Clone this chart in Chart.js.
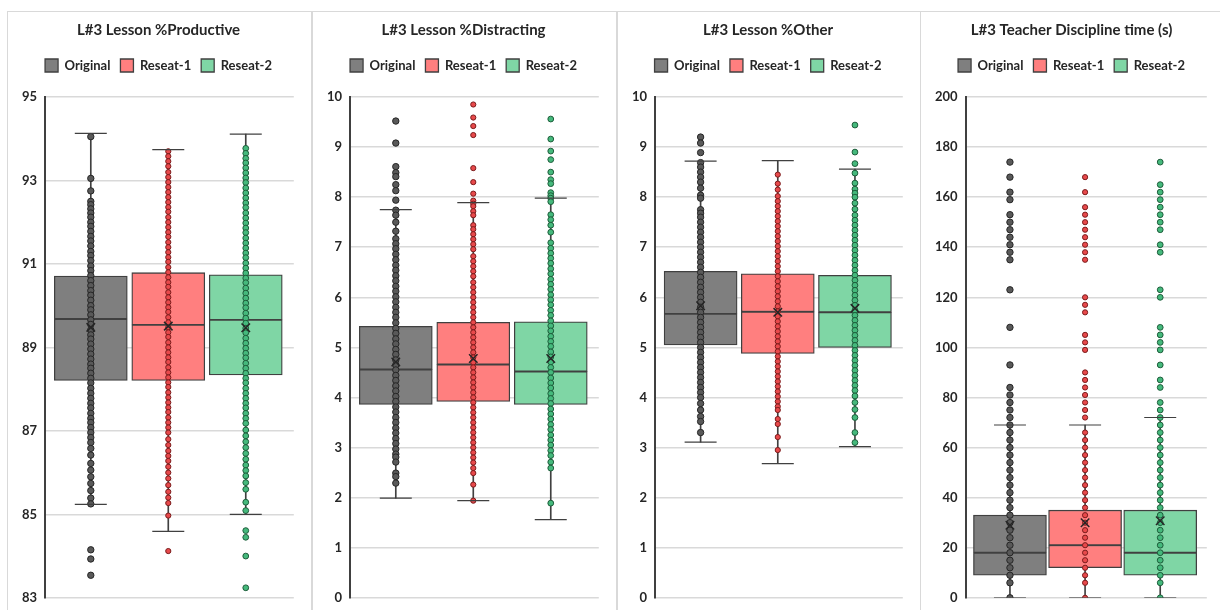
<!DOCTYPE html>
<html>
<head>
<meta charset="utf-8">
<script src="https://cdn.jsdelivr.net/npm/chart.js@4.4.0/dist/chart.umd.min.js"></script>
<style>
  body { margin: 0; background: #fff; }
  .panel { position: absolute; top: 11px; height: 605px; border: 1px solid #d9d9d9; box-sizing: border-box; }
</style>
</head>
<body>
<div class="panel" style="left:7px;width:305px"><canvas id="c1"></canvas></div>
<div class="panel" style="left:312px;width:305px"><canvas id="c2"></canvas></div>
<div class="panel" style="left:617px;width:304px"><canvas id="c3"></canvas></div>
<div class="panel" style="left:920px;width:305px"><canvas id="c4"></canvas></div>
<script>
const seriesNames = ['Original', 'Reseat-1', 'Reseat-2'];

// L#3 Lesson %Productive
const prodQ1 = [88.21, 88.21, 88.34];
const prodMedian = [89.68, 89.54, 89.66];
const prodQ3 = [90.71, 90.79, 90.74];
const prodMean = [89.48, 89.51, 89.47];
const prodLow = [85.24, 84.59, 85.0];
const prodHigh = [94.13, 93.74, 94.11];
const prodOriginal = [94.05, 93.05, 92.75, 92.5, 92.42, 92.32, 92.22, 92.12, 92.0, 91.9, 91.78, 91.66, 91.55, 91.43, 91.3, 91.2, 91.08, 90.95, 90.84, 90.72, 90.6, 90.48, 90.36, 90.25, 90.13, 90.0, 89.9, 89.78, 89.66, 89.55, 89.42, 89.3, 89.2, 89.08, 88.96, 88.84, 88.72, 88.6, 88.5, 88.38, 88.26, 88.15, 88.02, 87.9, 87.78, 87.66, 87.55, 87.42, 87.3, 87.2, 87.08, 86.96, 86.84, 86.72, 86.58, 86.42, 86.22, 86.06, 85.9, 85.74, 85.57, 85.39, 85.25, 84.15, 83.93, 83.54];
const prodReseat1 = [93.7, 93.58, 93.46, 93.34, 93.2, 93.08, 92.96, 92.84, 92.72, 92.6, 92.48, 92.36, 92.25, 92.12, 92.0, 91.88, 91.76, 91.65, 91.52, 91.4, 91.28, 91.16, 91.05, 90.92, 90.8, 90.68, 90.56, 90.45, 90.32, 90.2, 90.08, 89.96, 89.85, 89.72, 89.6, 89.48, 89.36, 89.25, 89.12, 89.0, 88.88, 88.76, 88.65, 88.52, 88.4, 88.28, 88.16, 88.05, 87.92, 87.8, 87.68, 87.56, 87.45, 87.32, 87.2, 87.08, 86.96, 86.8, 86.66, 86.52, 86.4, 86.28, 86.14, 86.0, 85.86, 85.7, 85.54, 85.4, 85.27, 84.97, 84.12];
const prodReseat2 = [93.77, 93.65, 93.53, 93.42, 93.3, 93.18, 93.06, 92.95, 92.82, 92.7, 92.58, 92.46, 92.35, 92.22, 92.1, 91.98, 91.86, 91.75, 91.62, 91.5, 91.38, 91.26, 91.15, 91.02, 90.9, 90.78, 90.66, 90.55, 90.42, 90.3, 90.18, 90.06, 89.95, 89.82, 89.7, 89.58, 89.46, 89.35, 89.22, 89.1, 88.98, 88.86, 88.75, 88.62, 88.5, 88.38, 88.26, 88.15, 88.02, 87.9, 87.78, 87.66, 87.55, 87.42, 87.3, 87.18, 87.02, 86.88, 86.74, 86.6, 86.46, 86.32, 86.18, 86.05, 85.92, 85.76, 85.6, 85.29, 85.09, 84.61, 84.45, 84.0, 83.24];

// L#3 Lesson %Distracting
const distQ1 = [3.86, 3.92, 3.86];
const distMedian = [4.56, 4.66, 4.52];
const distQ3 = [5.42, 5.5, 5.51];
const distMean = [4.71, 4.78, 4.78];
const distLow = [1.99, 1.94, 1.56];
const distHigh = [7.75, 7.89, 7.98];
const distOriginal = [9.52, 9.08, 8.61, 8.49, 8.41, 8.25, 8.13, 7.94, 7.74, 7.64, 7.5, 7.32, 7.17, 7.07, 6.97, 6.86, 6.75, 6.64, 6.54, 6.43, 6.33, 6.22, 6.12, 6.01, 5.91, 5.8, 5.7, 5.6, 5.49, 5.38, 5.28, 5.17, 5.07, 4.96, 4.86, 4.75, 4.65, 4.55, 4.44, 4.34, 4.23, 4.13, 4.02, 3.92, 3.81, 3.71, 3.6, 3.5, 3.39, 3.29, 3.18, 3.08, 2.97, 2.87, 2.81, 2.71, 2.49, 2.42, 2.29];
const distReseat1 = [9.85, 9.59, 9.42, 9.24, 8.58, 8.3, 8.07, 7.93, 7.87, 7.82, 7.72, 7.64, 7.44, 7.36, 7.26, 7.16, 7.06, 6.96, 6.82, 6.72, 6.62, 6.52, 6.42, 6.3, 6.2, 6.1, 6.0, 5.9, 5.8, 5.7, 5.6, 5.5, 5.4, 5.3, 5.2, 5.1, 5.0, 4.9, 4.8, 4.7, 4.6, 4.5, 4.4, 4.3, 4.2, 4.1, 4.0, 3.9, 3.8, 3.7, 3.6, 3.5, 3.4, 3.3, 3.2, 3.1, 3.0, 2.9, 2.8, 2.7, 2.59, 2.49, 2.26, 1.94];
const distReseat2 = [9.56, 9.16, 8.92, 8.75, 8.5, 8.35, 8.27, 8.09, 8.03, 7.98, 7.91, 7.65, 7.55, 7.44, 7.3, 7.09, 6.98, 6.88, 6.78, 6.68, 6.57, 6.47, 6.36, 6.26, 6.16, 6.05, 5.95, 5.85, 5.74, 5.64, 5.53, 5.43, 5.33, 5.22, 5.12, 5.02, 4.91, 4.81, 4.71, 4.6, 4.5, 4.39, 4.29, 4.19, 4.08, 3.98, 3.88, 3.77, 3.67, 3.57, 3.46, 3.36, 3.25, 3.15, 3.05, 2.94, 2.84, 2.71, 2.59, 1.89];

// L#3 Lesson %Other
const othQ1 = [5.05, 4.88, 5.0];
const othMedian = [5.67, 5.71, 5.7];
const othQ3 = [6.52, 6.47, 6.44];
const othMean = [5.83, 5.7, 5.78];
const othLow = [3.11, 2.68, 3.02];
const othHigh = [8.72, 8.73, 8.56];
const othOriginal = [9.2, 9.08, 8.89, 8.69, 8.6, 8.5, 8.4, 8.3, 8.18, 8.04, 7.98, 7.75, 7.68, 7.6, 7.5, 7.4, 7.3, 7.2, 7.1, 7.0, 6.9, 6.8, 6.7, 6.6, 6.5, 6.4, 6.3, 6.2, 6.1, 6.0, 5.9, 5.8, 5.7, 5.6, 5.5, 5.4, 5.3, 5.2, 5.1, 5.0, 4.9, 4.8, 4.7, 4.6, 4.5, 4.4, 4.3, 4.2, 4.1, 4.0, 3.88, 3.75, 3.62, 3.52, 3.3];
const othReseat1 = [8.45, 8.27, 8.15, 8.02, 7.92, 7.82, 7.72, 7.62, 7.52, 7.42, 7.32, 7.22, 7.12, 7.02, 6.92, 6.82, 6.72, 6.62, 6.52, 6.42, 6.32, 6.22, 6.12, 6.02, 5.92, 5.82, 5.72, 5.62, 5.52, 5.42, 5.32, 5.22, 5.12, 5.02, 4.92, 4.82, 4.72, 4.62, 4.52, 4.42, 4.32, 4.22, 4.12, 4.02, 3.92, 3.82, 3.75, 3.57, 3.47, 3.21, 2.95];
const othReseat2 = [9.44, 8.9, 8.67, 8.48, 8.28, 8.16, 8.08, 8.0, 7.88, 7.76, 7.64, 7.54, 7.44, 7.34, 7.24, 7.14, 7.04, 6.94, 6.84, 6.74, 6.64, 6.54, 6.44, 6.34, 6.24, 6.14, 6.04, 5.94, 5.84, 5.74, 5.64, 5.54, 5.44, 5.34, 5.24, 5.14, 5.04, 4.94, 4.84, 4.74, 4.64, 4.54, 4.44, 4.34, 4.24, 4.14, 4.03, 3.9, 3.76, 3.6, 3.3, 3.1];

// L#3 Teacher Discipline time (s)
const discQ1 = [9, 12, 9];
const discMedian = [18, 21, 18];
const discQ3 = [33, 35, 35];
const discMean = [29, 30, 30.8];
const discLow = [0, 0, 0];
const discHigh = [69, 69, 72];
const discOriginal = [174, 168, 162, 159, 153, 150, 147, 144, 141, 138, 135, 123, 108, 93, 84, 81, 78, 75, 72, 69, 66, 63, 60, 57, 54, 51, 48, 45, 42, 39, 36, 33, 30, 27, 24, 21, 18, 15, 12, 9, 6, 0];
const discReseat1 = [168, 162, 156, 153, 150, 147, 144, 141, 138, 135, 120, 117, 114, 105, 102, 99, 90, 87, 84, 81, 78, 75, 72, 66, 63, 60, 57, 54, 51, 48, 45, 42, 39, 36, 33, 30, 27, 24, 21, 18, 15, 12, 9, 6, 0];
const discReseat2 = [174, 165, 162, 159, 156, 153, 150, 147, 141, 138, 123, 120, 108, 105, 102, 99, 93, 87, 84, 78, 75, 72, 69, 66, 63, 60, 57, 54, 51, 48, 45, 42, 39, 36, 33, 30, 27, 24, 21, 18, 15, 12, 9, 6, 0];

const boxFill = ['#7f7f7f', '#ff7f7f', '#7fd6a5'];
const dotFill = ['#595959', '#e8494b', '#45b97c'];
const dotEdge = ['#262626', '#7a1c1c', '#1d5c3a'];
const dotSize = [3.2, 2.6, 2.9];
const darkLine = '#404040';
const fontFamily = "Lato, 'Open Sans', sans-serif";

// add room between the legend and the plot
const legendGap = {
  id: 'legendGap',
  beforeInit(chart) {
    const fitLegend = chart.legend.fit;
    chart.legend.fit = function () {
      fitLegend.call(this);
      this.height += 15;
    };
  }
};

function makeChart(id, title, q1, median, q3, mean, low, high, points, yMin, yMax, yStep) {
  const datasets = [];
  seriesNames.forEach((name, i) => {
    const x = i + 1;
    // whisker line, behind the box
    datasets.push({
      type: 'bar', label: name + ' whisker', data: [{x: x, y: [low[i], high[i]]}],
      backgroundColor: darkLine, barThickness: 1, order: 5
    });
    // box: lower half and upper half, the shared edge is the median
    datasets.push({
      type: 'bar', label: name, inLegend: true, data: [{x: x, y: [q1[i], median[i]]}],
      backgroundColor: boxFill[i], borderColor: darkLine, borderWidth: 1.3,
      borderSkipped: false, barThickness: 73, order: 4
    });
    datasets.push({
      type: 'bar', label: name + ' upper', data: [{x: x, y: [median[i], q3[i]]}],
      backgroundColor: boxFill[i], borderColor: darkLine, borderWidth: 1.3,
      borderSkipped: false, barThickness: 73, order: 4
    });
    // data points
    datasets.push({
      type: 'scatter', label: name + ' points', data: points[i].map(v => ({x: x, y: v})),
      pointRadius: dotSize[i], pointBackgroundColor: dotFill[i], pointBorderColor: dotEdge[i],
      pointBorderWidth: 1, order: 2
    });
    // whisker caps
    datasets.push({
      type: 'scatter', label: name + ' caps', data: [{x: x, y: low[i]}, {x: x, y: high[i]}],
      pointStyle: 'line', pointRadius: 16, pointBorderColor: darkLine, pointBorderWidth: 1.2, order: 1
    });
    // mean marker
    datasets.push({
      type: 'scatter', label: name + ' mean', data: [{x: x, y: mean[i]}],
      pointStyle: 'crossRot', pointRadius: 6, pointBorderColor: '#262626', pointBorderWidth: 1.5, order: 0
    });
  });

  return new Chart(document.getElementById(id), {
    type: 'bar',
    data: { datasets: datasets },
    plugins: [legendGap],
    options: {
      responsive: true,
      maintainAspectRatio: false,
      animation: false,
      layout: { padding: { left: 6, right: 8, top: 0, bottom: 6 } },
      datasets: { bar: { grouped: false } },
      scales: {
        x: { type: 'linear', min: 0.41, max: 3.62, offset: false, display: false },
        y: {
          min: yMin, max: yMax,
          ticks: { stepSize: yStep, color: '#262626', padding: 8, font: { family: fontFamily, size: 13, weight: 'bold' } },
          grid: { color: '#d9d9d9', lineWidth: 1.5, drawTicks: false },
          border: { color: darkLine, width: 2 }
        }
      },
      plugins: {
        tooltip: { enabled: false },
        title: {
          display: true, text: title, color: '#262626',
          padding: { top: 9, bottom: 10 },
          font: { family: fontFamily, size: 15, weight: 'bold' }
        },
        legend: {
          display: true,
          labels: {
            boxWidth: 13, boxHeight: 13, padding: 10, color: '#262626',
            font: { family: fontFamily, size: 13, weight: 'bold' },
            filter: (item, data) => data.datasets[item.datasetIndex].inLegend === true
          }
        }
      }
    }
  });
}

makeChart('c1', 'L#3 Lesson %Productive', prodQ1, prodMedian, prodQ3, prodMean, prodLow, prodHigh,
  [prodOriginal, prodReseat1, prodReseat2], 83, 95, 2);
makeChart('c2', 'L#3 Lesson %Distracting', distQ1, distMedian, distQ3, distMean, distLow, distHigh,
  [distOriginal, distReseat1, distReseat2], 0, 10, 1);
makeChart('c3', 'L#3 Lesson %Other', othQ1, othMedian, othQ3, othMean, othLow, othHigh,
  [othOriginal, othReseat1, othReseat2], 0, 10, 1);
makeChart('c4', 'L#3 Teacher Discipline time (s)', discQ1, discMedian, discQ3, discMean, discLow, discHigh,
  [discOriginal, discReseat1, discReseat2], 0, 200, 20);
</script>
</body>
</html>
